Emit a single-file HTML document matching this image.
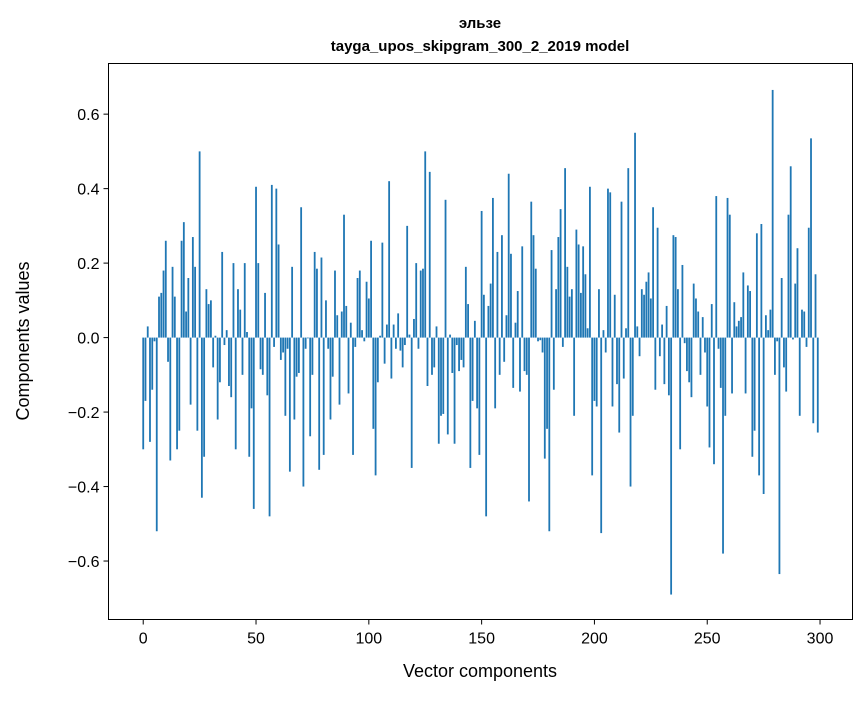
<!DOCTYPE html>
<html><head><meta charset="utf-8"><style>
body{margin:0;background:#fff}
svg text{font-family:"Liberation Sans","DejaVu Sans",sans-serif;fill:#000}
</style></head><body>
<svg id="chart" width="867" height="696" xmlns="http://www.w3.org/2000/svg">
<rect width="867" height="696" fill="#fff"/>
<text x="480" y="28" text-anchor="middle" font-size="15" font-weight="bold">эльзе</text>
<text x="480" y="51" text-anchor="middle" font-size="15" font-weight="bold">tayga_upos_skipgram_300_2_2019 model</text>
<g id="bars"></g>
<rect x="108.5" y="63.5" width="744" height="556" fill="none" stroke="#000" stroke-width="1"/>
<g id="xticks"></g>
<g id="yticks"></g>
<text x="480" y="677" text-anchor="middle" font-size="18">Vector components</text>
<text transform="translate(29,341) rotate(-90)" text-anchor="middle" font-size="18">Components values</text>
</svg>
<script>
const values = [
-0.30,-0.17,0.03,-0.28,-0.14,-0.01,-0.52,0.11,0.12,0.18,
0.26,-0.065,-0.33,0.19,0.11,-0.30,-0.25,0.26,0.31,0.07,
0.16,-0.18,0.27,0.19,-0.25,0.50,-0.43,-0.32,0.13,0.09,
0.10,-0.08,0.005,-0.22,-0.12,0.23,-0.02,0.02,-0.13,-0.16,
0.20,-0.30,0.13,0.075,-0.10,0.20,0.015,-0.32,-0.19,-0.46,
0.405,0.20,-0.085,-0.10,0.12,-0.155,-0.48,0.41,-0.025,0.40,
0.25,-0.06,-0.04,-0.21,-0.03,-0.36,0.19,-0.22,-0.105,-0.095,
0.35,-0.40,-0.03,-0.002,-0.265,-0.10,0.23,0.185,-0.355,0.215,
-0.315,0.10,-0.03,-0.22,-0.105,0.18,0.06,-0.18,0.07,0.33,
0.085,-0.15,0.04,-0.315,-0.025,0.16,0.18,0.02,-0.01,0.15,
0.105,0.26,-0.245,-0.37,-0.12,0.005,0.255,-0.07,0.035,0.42,
-0.11,0.035,-0.03,0.065,-0.035,-0.08,-0.02,0.30,0.008,-0.35,
0.05,0.20,-0.03,0.18,0.185,0.50,-0.13,0.445,-0.10,-0.08,
0.03,-0.285,-0.21,-0.205,0.37,-0.26,0.008,-0.095,-0.285,-0.02,
-0.09,-0.06,-0.08,0.19,0.09,-0.35,-0.17,0.045,-0.19,-0.315,
0.34,0.115,-0.48,0.085,0.145,0.375,-0.19,0.23,-0.10,0.275,
-0.065,0.06,0.44,0.225,-0.135,0.04,0.125,-0.145,0.245,-0.09,
-0.10,-0.44,0.365,0.275,0.185,-0.01,-0.007,-0.04,-0.325,-0.245,
-0.52,0.235,-0.14,0.13,0.27,0.345,-0.025,0.455,0.19,0.11,
0.13,-0.21,0.29,0.25,0.12,0.245,0.17,0.025,0.405,-0.37,
-0.17,-0.185,0.13,-0.525,0.02,-0.04,0.40,0.39,-0.185,0.115,
-0.125,-0.255,0.365,-0.11,0.025,0.455,-0.40,-0.21,0.55,0.03,
-0.05,0.13,0.115,0.15,0.175,0.105,0.35,-0.14,0.295,-0.05,
0.035,-0.125,0.085,-0.155,-0.69,0.275,0.27,0.13,-0.30,0.195,
-0.015,-0.09,-0.12,-0.16,0.145,0.105,0.07,-0.10,0.055,-0.04,
-0.185,-0.295,0.09,-0.34,0.38,-0.03,-0.135,-0.58,-0.21,0.375,
0.33,-0.15,0.095,0.03,0.045,0.055,0.175,-0.15,0.14,0.125,
-0.32,-0.25,0.28,-0.37,0.305,-0.42,0.06,0.02,0.075,0.665,
-0.10,-0.01,-0.635,0.16,-0.08,-0.145,0.33,0.46,-0.005,0.145,
0.24,-0.21,0.075,0.07,-0.025,0.295,0.535,-0.23,0.17,-0.255
];
const xTicks = [0,50,100,150,200,250,300];
const yTicks = [-0.6,-0.4,-0.2,0.0,0.2,0.4,0.6];

const L=108.5,R=852.5,T=63.5,B=619.5;
const xMin=-15.39,xMax=314.39,yMin=-0.757,yMax=0.736;
function xs(v){return L+(v-xMin)/(xMax-xMin)*(R-L);}
function ys(v){return B-(v-yMin)/(yMax-yMin)*(B-T);}
const NS="http://www.w3.org/2000/svg";
const bars=document.getElementById('bars');
values.forEach((v,i)=>{
  const r=document.createElementNS(NS,'rect');
  const x0=xs(i-0.4),x1=xs(i+0.4);
  const y0=ys(Math.max(v,0)),y1=ys(Math.min(v,0));
  r.setAttribute('x',x0);r.setAttribute('width',x1-x0);
  r.setAttribute('y',y0);r.setAttribute('height',Math.max(y1-y0,0.3));
  r.setAttribute('fill','#1f77b4');
  
  
  bars.appendChild(r);
});
const xg=document.getElementById('xticks');
xTicks.forEach(t=>{
  const x=xs(t);
  const l=document.createElementNS(NS,'line');
  l.setAttribute('x1',x);l.setAttribute('x2',x);l.setAttribute('y1',B);l.setAttribute('y2',B+5);
  l.setAttribute('stroke','#000');
  
  
  xg.appendChild(l);
  const tx=document.createElementNS(NS,'text');
  tx.setAttribute('x',x);tx.setAttribute('y',B+24);tx.setAttribute('text-anchor','middle');tx.setAttribute('font-size','16');
  tx.textContent=String(t);
  
  
  xg.appendChild(tx);
});
const yg=document.getElementById('yticks');
yTicks.forEach(t=>{
  const y=ys(t);
  const l=document.createElementNS(NS,'line');
  l.setAttribute('x1',L-5);l.setAttribute('x2',L);l.setAttribute('y1',y);l.setAttribute('y2',y);
  l.setAttribute('stroke','#000');
  
  
  yg.appendChild(l);
  const tx=document.createElementNS(NS,'text');
  tx.setAttribute('x',L-9);tx.setAttribute('y',y+6);tx.setAttribute('text-anchor','end');tx.setAttribute('font-size','16');
  tx.textContent=(t<0?'\u2212':'')+Math.abs(t).toFixed(1);
  
  
  yg.appendChild(tx);
});
</script>
</body></html>
